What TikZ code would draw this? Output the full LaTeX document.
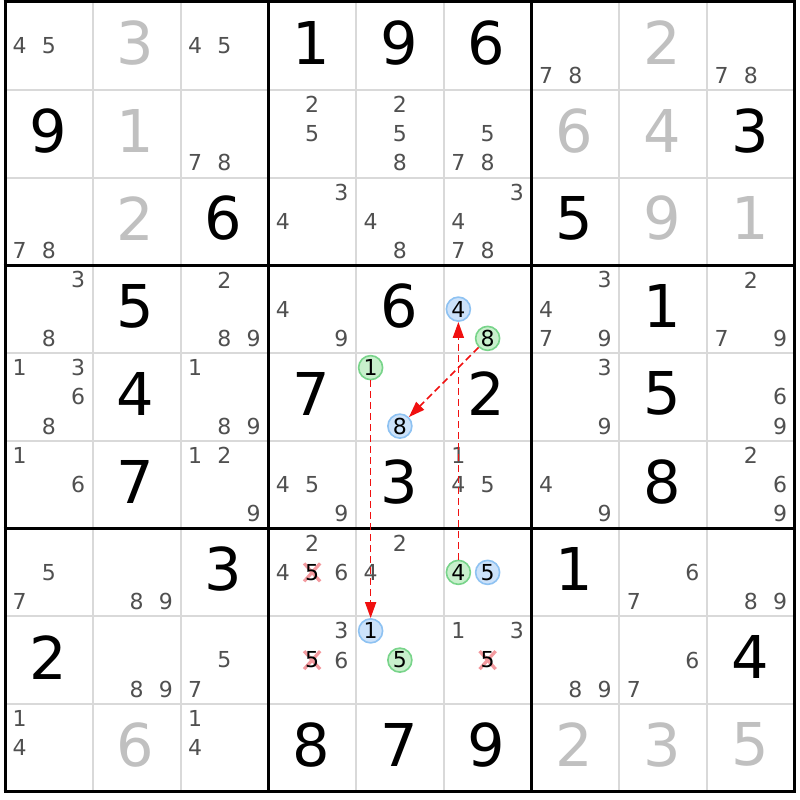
\documentclass[tikz,border=0pt]{standalone}
\usepackage{fontspec}
\setmainfont{DejaVu Sans}
\usetikzlibrary{arrows.meta}
\definecolor{candgray}{HTML}{505050}
\definecolor{solvgray}{HTML}{C0C0C0}
\definecolor{thinline}{HTML}{D9D9D9}
\definecolor{bluefill}{HTML}{CCE2FA}
\definecolor{blueedge}{HTML}{8EC2F2}
\definecolor{greenfill}{HTML}{C8F0CC}
\definecolor{greenedge}{HTML}{78D48A}
\definecolor{crossred}{HTML}{F39A9F}
\definecolor{arrowred}{HTML}{F01010}

\newcommand{\CellSz}{87.75}
\newcommand{\GridX}{5}
\newcommand{\GridY}{2}

\tikzset{
  given/.style={inner sep=0pt, font=\fontsize{59}{59}\selectfont, text=black},
  solved/.style={given, text=solvgray},
  cand/.style={inner sep=0pt, font=\fontsize{22}{22}\selectfont, text=candgray},
  candblue/.style={cand, text=black, circle, draw=blueedge, fill=bluefill, line width=1.6pt, minimum size=24pt},
  candgreen/.style={cand, text=black, circle, draw=greenedge, fill=greenfill, line width=1.6pt, minimum size=24pt},
  candx/.style={cand, text=black},
  xmark/.style={draw=crossred, line width=3.2pt},
  gridthin/.style={draw=thinline, line width=2pt},
  gridthick/.style={draw=black, line width=3pt},
  link/.style={draw=arrowred, line width=1.7pt, dash pattern=on 7pt off 4pt, -{Triangle[length=16pt,width=11pt]}}
}

% given digit: row, col, digit
\newcommand{\Giv}[4][given]{\node[#1] (g#2#3) at ({\GridX+(#3-0.5)*\CellSz-1},{\GridY+(#2-0.5)*\CellSz-3}) {#4};}
% candidate: [style] row, col, digit
\newcommand{\Cand}[4][cand]{\node[#1] (c#2#3#4) at ({\GridX+(#3-1)*\CellSz+\CellSz*(1/6+mod(#4-1,3)/3)},{\GridY+(#2-1)*\CellSz+\CellSz*(1/6+floor((#4-1)/3)/3)}) {#4};}
\newcommand{\Cands}[3]{\foreach \dd in {#3} {\Cand{#1}{#2}{\dd}}}
% crossed candidate
\newcommand{\CandX}[3]{%
  \coordinate (x#1#2#3) at ({\GridX+(#2-1)*\CellSz+\CellSz*(1/6+mod(#3-1,3)/3)},{\GridY+(#1-1)*\CellSz+\CellSz*(1/6+floor((#3-1)/3)/3)});
  \draw[xmark] (x#1#2#3) +(-8,-9) -- +(8,9) +(-8,9) -- +(8,-9);
  \Cand[candx]{#1}{#2}{#3}}

\begin{document}
\begin{tikzpicture}[x=1pt,y=-1pt]
\useasboundingbox (0,0) rectangle (800,800);
\fill[white] (0,0) rectangle (800,800);

% thin grid lines
\foreach \i in {1,2,4,5,7,8} {
  \draw[gridthin] ({\GridX+\i*\CellSz},\GridY) -- ({\GridX+\i*\CellSz},{\GridY+9*\CellSz});
  \draw[gridthin] (\GridX,{\GridY+\i*\CellSz}) -- ({\GridX+9*\CellSz},{\GridY+\i*\CellSz});
}
% thick grid lines
\foreach \i in {0,3,6,9} {
  \draw[gridthick] ({\GridX+\i*\CellSz},{\GridY-1.5}) -- ({\GridX+\i*\CellSz},{\GridY+9*\CellSz+1.5});
  \draw[gridthick] ({\GridX-1.5},{\GridY+\i*\CellSz}) -- ({\GridX+9*\CellSz+1.5},{\GridY+\i*\CellSz});
}

% givens (black)
\Giv{1}{4}{1} \Giv{1}{5}{9} \Giv{1}{6}{6}
\Giv{2}{1}{9} \Giv{2}{9}{3}
\Giv{3}{3}{6} \Giv{3}{7}{5}
\Giv{4}{2}{5} \Giv{4}{5}{6} \Giv{4}{8}{1}
\Giv{5}{2}{4} \Giv{5}{4}{7} \Giv{5}{6}{2} \Giv{5}{8}{5}
\Giv{6}{2}{7} \Giv{6}{5}{3} \Giv{6}{8}{8}
\Giv{7}{3}{3} \Giv{7}{7}{1}
\Giv{8}{1}{2} \Giv{8}{9}{4}
\Giv{9}{4}{8} \Giv{9}{5}{7} \Giv{9}{6}{9}

% solved (gray)
\Giv[solved]{1}{2}{3} \Giv[solved]{1}{8}{2}
\Giv[solved]{2}{2}{1} \Giv[solved]{2}{7}{6} \Giv[solved]{2}{8}{4}
\Giv[solved]{3}{2}{2} \Giv[solved]{3}{8}{9} \Giv[solved]{3}{9}{1}
\Giv[solved]{9}{2}{6} \Giv[solved]{9}{7}{2} \Giv[solved]{9}{8}{3} \Giv[solved]{9}{9}{5}

% candidates
\Cands{1}{1}{4,5} \Cands{1}{3}{4,5} \Cands{1}{7}{7,8} \Cands{1}{9}{7,8}
\Cands{2}{3}{7,8} \Cands{2}{4}{2,5} \Cands{2}{5}{2,5,8} \Cands{2}{6}{5,7,8}
\Cands{3}{1}{7,8} \Cands{3}{4}{3,4} \Cands{3}{5}{4,8} \Cands{3}{6}{3,4,7,8}
\Cands{4}{1}{3,8} \Cands{4}{3}{2,8,9} \Cands{4}{4}{4,9}
\Cand[candblue]{4}{6}{4} \Cand[candgreen]{4}{6}{8}
\Cands{4}{7}{3,4,7,9} \Cands{4}{9}{2,7,9}
\Cands{5}{1}{1,3,6,8} \Cands{5}{3}{1,8,9}
\Cand[candgreen]{5}{5}{1} \Cand[candblue]{5}{5}{8}
\Cands{5}{7}{3,9} \Cands{5}{9}{6,9}
\Cands{6}{1}{1,6} \Cands{6}{3}{1,2,9} \Cands{6}{4}{4,5,9} \Cands{6}{6}{1,4,5}
\Cands{6}{7}{4,9} \Cands{6}{9}{2,6,9}
\Cands{7}{1}{5,7} \Cands{7}{2}{8,9}
\Cands{7}{4}{2,4,6} \CandX{7}{4}{5}
\Cands{7}{5}{2,4}
\Cand[candgreen]{7}{6}{4} \Cand[candblue]{7}{6}{5}
\Cands{7}{8}{6,7} \Cands{7}{9}{8,9}
\Cands{8}{2}{8,9} \Cands{8}{3}{5,7}
\Cands{8}{4}{3,6} \CandX{8}{4}{5}
\Cand[candblue]{8}{5}{1} \Cand[candgreen]{8}{5}{5}
\Cands{8}{6}{1,3} \CandX{8}{6}{5}
\Cands{8}{7}{8,9} \Cands{8}{8}{6,7}
\Cands{9}{1}{1,4} \Cands{9}{3}{1,4}

% links
\draw[link] (c551) -- (c851);
\draw[link] (c764) -- (c464);
\draw[link] (c468) -- (c558);
\end{tikzpicture}
\end{document}
